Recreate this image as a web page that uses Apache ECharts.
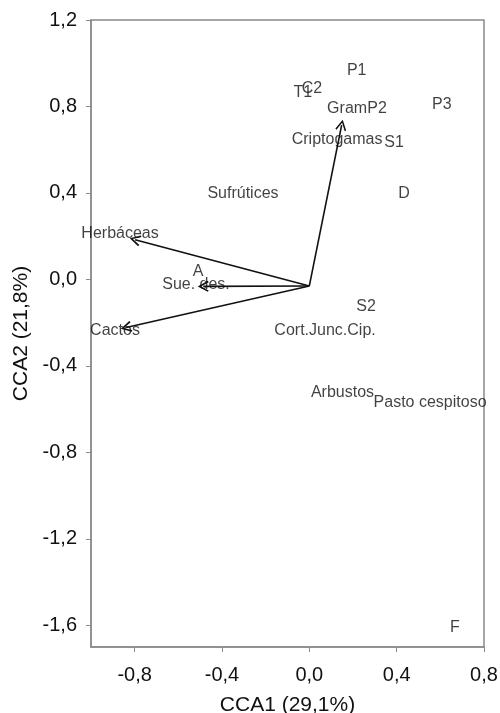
<!DOCTYPE html>
<html><head><meta charset="utf-8">
<script src="https://cdn.jsdelivr.net/npm/echarts@6/dist/echarts.min.js"></script>
<style>html,body{margin:0;padding:0;background:#fff}#c{width:500px;height:713px}</style>
</head><body><div id="c"></div>
<script>
// Point labels (sites and species)
const labelNames = ["P1","C2","T1","Gram","P2","P3","Criptogamas","S1","Sufrútices","D","Herbáceas","A","Sue. des.","S2","Cactos","Cort.Junc.Cip.","Arbustos","Pasto cespitoso","F"];
const labelX = [0.217,0.012,-0.030,0.173,0.310,0.607,0.127,0.388,-0.304,0.434,-0.867,-0.510,-0.519,0.260,-0.890,0.072,0.152,0.553,0.667];
const labelY = [0.968,0.885,0.862,0.792,0.792,0.811,0.649,0.635,0.397,0.399,0.213,0.038,-0.023,-0.125,-0.236,-0.236,-0.525,-0.569,-1.608];
// Environmental vectors
const arrowOrigin = [0.0, -0.03];
const arrowX = [0.148,-0.798,-0.486,-0.839];
const arrowY = [0.714,0.184,-0.032,-0.222];
// Ticks
const xTicks = [-0.8,-0.4,0,0.4,0.8];
const yTicks = [-1.6,-1.2,-0.8,-0.4,0,0.4,0.8,1.2];

const FONT = 'Liberation Sans, Arial, sans-serif';
const fmt = v => v.toFixed(1).replace('-0.0','0.0').replace('.', ',');
const chart = echarts.init(document.getElementById('c'));
const pts = labelNames.map((n,i)=>({name:n, value:[labelX[i], labelY[i]]}));
const arrows = arrowX.map((x,i)=>({coords:[arrowOrigin,[x,arrowY[i]]]}));
const axisCommon = {
  axisLine:{show:true,onZero:false,lineStyle:{color:'#8a8a8a',width:1.5}},
  axisTick:{show:true,length:5,lineStyle:{color:'#8a8a8a'}},
  splitLine:{show:false},
  axisLabel:{color:'#111',fontSize:20,fontFamily:FONT,formatter:fmt},
  nameTextStyle:{color:'#111',fontSize:21,fontFamily:FONT}
};
chart.setOption({
  animation:false,
  grid:{left:91,right:16,top:20,bottom:66,outerBoundsMode:'none',containLabel:false,show:true,borderColor:'#8a8a8a',borderWidth:1.5,backgroundColor:'transparent'},
  xAxis:Object.assign({}, axisCommon, {type:'value',min:-1.0,max:0.8,
    name:'CCA1 (29,1%)',nameLocation:'middle',nameGap:48,
    axisLabel:Object.assign({},axisCommon.axisLabel,{customValues:xTicks,margin:18}),
    axisTick:Object.assign({},axisCommon.axisTick,{customValues:xTicks})}),
  yAxis:Object.assign({}, axisCommon, {type:'value',min:-1.7,max:1.2,
    name:'CCA2 (21,8%)',nameLocation:'middle',nameGap:57,
    axisLabel:Object.assign({},axisCommon.axisLabel,{customValues:yTicks,margin:14}),
    axisTick:Object.assign({},axisCommon.axisTick,{customValues:yTicks})}),
  series:[
    {type:'lines',coordinateSystem:'cartesian2d',data:arrows,
     symbol:['none','path://M5,0 L10,10 L8.8,11 L5,3.2 L1.2,11 L0,10 Z'],symbolSize:[0,11],
     lineStyle:{color:'#111',width:1.6,opacity:1},itemStyle:{color:'#111'},z:3},
    {type:'scatter',data:pts,symbolSize:1,itemStyle:{color:'rgba(0,0,0,0)'},
     label:{show:true,position:'inside',formatter:'{b}',color:'#111',fontSize:16,
       fontFamily:FONT},z:4}
  ]
});
</script></body></html>
